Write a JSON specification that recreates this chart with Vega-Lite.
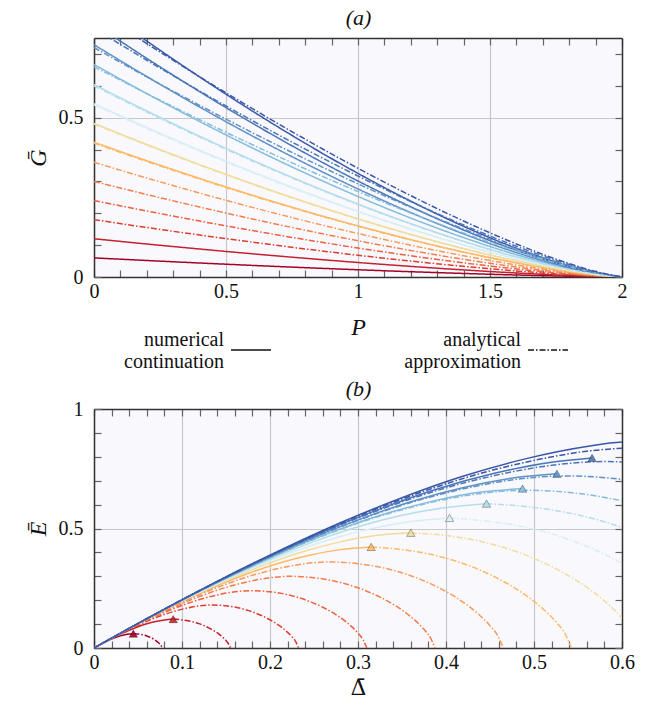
{
"$schema":"https://vega.github.io/schema/vega-lite/v6.json",
"padding":{"left":26,"top":6,"right":5,"bottom":5},
"background":"white",
"spacing":38,
"config":{
 "font":"Liberation Serif",
 "view":{"fill":"#f8f8fd","stroke":null},
 "axis":{"labelFont":"Liberation Serif","labelFontSize":20,"labelColor":"#111","titleFont":"Liberation Serif","titleFontSize":24,"titleFontWeight":"normal","titleColor":"#111","domainColor":"#333","domainWidth":1.5,"tickColor":"#666","tickWidth":1.2,"gridColor":"#c8c8c8","gridWidth":1.2,"labelFlush":false,"labelOverlap":false,"labelBound":false,"format":"~g"}
},
"datasets":{
"a":[
{"k":1,"m":"num","P":0,"G":0.06},{"k":1,"m":"num","P":0.2,"G":0.0518},{"k":1,"m":"num","P":0.4,"G":0.0439},{"k":1,"m":"num","P":0.6,"G":0.0364},{"k":1,"m":"num","P":0.8,"G":0.0293},{"k":1,"m":"num","P":1,"G":0.0227},{"k":1,"m":"num","P":1.2,"G":0.0166},{"k":1,"m":"num","P":1.4,"G":0.0111},{"k":1,"m":"num","P":1.6,"G":0.0063},{"k":1,"m":"num","P":1.8,"G":0.0024},{"k":1,"m":"num","P":1.9,"G":0.0009},{"k":1,"m":"num","P":2,"G":0},
{"k":2,"m":"num","P":0,"G":0.12},{"k":2,"m":"num","P":0.2,"G":0.1035},{"k":2,"m":"num","P":0.4,"G":0.0878},{"k":2,"m":"num","P":0.6,"G":0.0728},{"k":2,"m":"num","P":0.8,"G":0.0587},{"k":2,"m":"num","P":1,"G":0.0455},{"k":2,"m":"num","P":1.2,"G":0.0333},{"k":2,"m":"num","P":1.4,"G":0.0222},{"k":2,"m":"num","P":1.6,"G":0.0126},{"k":2,"m":"num","P":1.8,"G":0.0048},{"k":2,"m":"num","P":1.9,"G":0.0018},{"k":2,"m":"num","P":2,"G":0},
{"k":7,"m":"num","P":0,"G":0.423},{"k":7,"m":"num","P":0.2,"G":0.365},{"k":7,"m":"num","P":0.4,"G":0.3095},{"k":7,"m":"num","P":0.6,"G":0.2567},{"k":7,"m":"num","P":0.8,"G":0.2069},{"k":7,"m":"num","P":1,"G":0.1603},{"k":7,"m":"num","P":1.2,"G":0.1173},{"k":7,"m":"num","P":1.4,"G":0.0784},{"k":7,"m":"num","P":1.6,"G":0.0444},{"k":7,"m":"num","P":1.8,"G":0.0168},{"k":7,"m":"num","P":1.9,"G":0.0064},{"k":7,"m":"num","P":2,"G":0},
{"k":8,"m":"num","P":0,"G":0.482},{"k":8,"m":"num","P":0.2,"G":0.4159},{"k":8,"m":"num","P":0.4,"G":0.3527},{"k":8,"m":"num","P":0.6,"G":0.2925},{"k":8,"m":"num","P":0.8,"G":0.2357},{"k":8,"m":"num","P":1,"G":0.1826},{"k":8,"m":"num","P":1.2,"G":0.1336},{"k":8,"m":"num","P":1.4,"G":0.0893},{"k":8,"m":"num","P":1.6,"G":0.0506},{"k":8,"m":"num","P":1.8,"G":0.0192},{"k":8,"m":"num","P":1.9,"G":0.0073},{"k":8,"m":"num","P":2,"G":0},
{"k":9,"m":"num","P":0,"G":0.544},{"k":9,"m":"num","P":0.2,"G":0.4694},{"k":9,"m":"num","P":0.4,"G":0.398},{"k":9,"m":"num","P":0.6,"G":0.3302},{"k":9,"m":"num","P":0.8,"G":0.2661},{"k":9,"m":"num","P":1,"G":0.2061},{"k":9,"m":"num","P":1.2,"G":0.1508},{"k":9,"m":"num","P":1.4,"G":0.1008},{"k":9,"m":"num","P":1.6,"G":0.0571},{"k":9,"m":"num","P":1.8,"G":0.0217},{"k":9,"m":"num","P":1.9,"G":0.0082},{"k":9,"m":"num","P":2,"G":0},
{"k":10,"m":"num","P":0,"G":0.604},{"k":10,"m":"num","P":0.2,"G":0.5212},{"k":10,"m":"num","P":0.4,"G":0.4419},{"k":10,"m":"num","P":0.6,"G":0.3666},{"k":10,"m":"num","P":0.8,"G":0.2954},{"k":10,"m":"num","P":1,"G":0.2289},{"k":10,"m":"num","P":1.2,"G":0.1674},{"k":10,"m":"num","P":1.4,"G":0.1119},{"k":10,"m":"num","P":1.6,"G":0.0634},{"k":10,"m":"num","P":1.8,"G":0.024},{"k":10,"m":"num","P":1.9,"G":0.0091},{"k":10,"m":"num","P":2,"G":0},
{"k":11,"m":"num","P":0,"G":0.667},{"k":11,"m":"num","P":0.2,"G":0.5755},{"k":11,"m":"num","P":0.4,"G":0.488},{"k":11,"m":"num","P":0.6,"G":0.4048},{"k":11,"m":"num","P":0.8,"G":0.3262},{"k":11,"m":"num","P":1,"G":0.2527},{"k":11,"m":"num","P":1.2,"G":0.1849},{"k":11,"m":"num","P":1.4,"G":0.1236},{"k":11,"m":"num","P":1.6,"G":0.07},{"k":11,"m":"num","P":1.8,"G":0.0265},{"k":11,"m":"num","P":1.9,"G":0.0101},{"k":11,"m":"num","P":2,"G":0},
{"k":12,"m":"num","P":0,"G":0.729},{"k":12,"m":"num","P":0.2,"G":0.6291},{"k":12,"m":"num","P":0.4,"G":0.5334},{"k":12,"m":"num","P":0.6,"G":0.4424},{"k":12,"m":"num","P":0.8,"G":0.3566},{"k":12,"m":"num","P":1,"G":0.2762},{"k":12,"m":"num","P":1.2,"G":0.2021},{"k":12,"m":"num","P":1.4,"G":0.1351},{"k":12,"m":"num","P":1.6,"G":0.0765},{"k":12,"m":"num","P":1.8,"G":0.029},{"k":12,"m":"num","P":1.9,"G":0.011},{"k":12,"m":"num","P":2,"G":0},
{"k":13,"m":"num","P":0,"G":0.795},{"k":13,"m":"num","P":0.2,"G":0.686},{"k":13,"m":"num","P":0.4,"G":0.5817},{"k":13,"m":"num","P":0.6,"G":0.4825},{"k":13,"m":"num","P":0.8,"G":0.3888},{"k":13,"m":"num","P":1,"G":0.3012},{"k":13,"m":"num","P":1.2,"G":0.2204},{"k":13,"m":"num","P":1.4,"G":0.1473},{"k":13,"m":"num","P":1.6,"G":0.0835},{"k":13,"m":"num","P":1.8,"G":0.0316},{"k":13,"m":"num","P":1.9,"G":0.012},{"k":13,"m":"num","P":2,"G":0},
{"k":14,"m":"num","P":0,"G":0.858},{"k":14,"m":"num","P":0.2,"G":0.7404},{"k":14,"m":"num","P":0.4,"G":0.6278},{"k":14,"m":"num","P":0.6,"G":0.5207},{"k":14,"m":"num","P":0.8,"G":0.4196},{"k":14,"m":"num","P":1,"G":0.3251},{"k":14,"m":"num","P":1.2,"G":0.2378},{"k":14,"m":"num","P":1.4,"G":0.159},{"k":14,"m":"num","P":1.6,"G":0.0901},{"k":14,"m":"num","P":1.8,"G":0.0341},{"k":14,"m":"num","P":1.9,"G":0.013},{"k":14,"m":"num","P":2,"G":0},
{"k":3,"m":"ana","P":0,"G":0.18},{"k":3,"m":"ana","P":0.2,"G":0.1553},{"k":3,"m":"ana","P":0.4,"G":0.1317},{"k":3,"m":"ana","P":0.6,"G":0.1092},{"k":3,"m":"ana","P":0.8,"G":0.088},{"k":3,"m":"ana","P":1,"G":0.0682},{"k":3,"m":"ana","P":1.2,"G":0.0499},{"k":3,"m":"ana","P":1.4,"G":0.0334},{"k":3,"m":"ana","P":1.6,"G":0.0189},{"k":3,"m":"ana","P":1.8,"G":0.0072},{"k":3,"m":"ana","P":1.9,"G":0.0027},{"k":3,"m":"ana","P":2,"G":0},
{"k":4,"m":"ana","P":0,"G":0.24},{"k":4,"m":"ana","P":0.2,"G":0.2071},{"k":4,"m":"ana","P":0.4,"G":0.1756},{"k":4,"m":"ana","P":0.6,"G":0.1457},{"k":4,"m":"ana","P":0.8,"G":0.1174},{"k":4,"m":"ana","P":1,"G":0.0909},{"k":4,"m":"ana","P":1.2,"G":0.0665},{"k":4,"m":"ana","P":1.4,"G":0.0445},{"k":4,"m":"ana","P":1.6,"G":0.0252},{"k":4,"m":"ana","P":1.8,"G":0.0096},{"k":4,"m":"ana","P":1.9,"G":0.0036},{"k":4,"m":"ana","P":2,"G":0},
{"k":5,"m":"ana","P":0,"G":0.3},{"k":5,"m":"ana","P":0.2,"G":0.2589},{"k":5,"m":"ana","P":0.4,"G":0.2195},{"k":5,"m":"ana","P":0.6,"G":0.1821},{"k":5,"m":"ana","P":0.8,"G":0.1467},{"k":5,"m":"ana","P":1,"G":0.1137},{"k":5,"m":"ana","P":1.2,"G":0.0832},{"k":5,"m":"ana","P":1.4,"G":0.0556},{"k":5,"m":"ana","P":1.6,"G":0.0315},{"k":5,"m":"ana","P":1.8,"G":0.0119},{"k":5,"m":"ana","P":1.9,"G":0.0045},{"k":5,"m":"ana","P":2,"G":0},
{"k":6,"m":"ana","P":0,"G":0.36},{"k":6,"m":"ana","P":0.2,"G":0.3106},{"k":6,"m":"ana","P":0.4,"G":0.2634},{"k":6,"m":"ana","P":0.6,"G":0.2185},{"k":6,"m":"ana","P":0.8,"G":0.1761},{"k":6,"m":"ana","P":1,"G":0.1364},{"k":6,"m":"ana","P":1.2,"G":0.0998},{"k":6,"m":"ana","P":1.4,"G":0.0667},{"k":6,"m":"ana","P":1.6,"G":0.0378},{"k":6,"m":"ana","P":1.8,"G":0.0143},{"k":6,"m":"ana","P":1.9,"G":0.0054},{"k":6,"m":"ana","P":2,"G":0},
{"k":7,"m":"ana","P":0,"G":0.42},{"k":7,"m":"ana","P":0.2,"G":0.3624},{"k":7,"m":"ana","P":0.4,"G":0.3073},{"k":7,"m":"ana","P":0.6,"G":0.2549},{"k":7,"m":"ana","P":0.8,"G":0.2054},{"k":7,"m":"ana","P":1,"G":0.1591},{"k":7,"m":"ana","P":1.2,"G":0.1164},{"k":7,"m":"ana","P":1.4,"G":0.0778},{"k":7,"m":"ana","P":1.6,"G":0.0441},{"k":7,"m":"ana","P":1.8,"G":0.0167},{"k":7,"m":"ana","P":1.9,"G":0.0063},{"k":7,"m":"ana","P":2,"G":0},
{"k":8,"m":"ana","P":0,"G":0.48},{"k":8,"m":"ana","P":0.2,"G":0.4142},{"k":8,"m":"ana","P":0.4,"G":0.3512},{"k":8,"m":"ana","P":0.6,"G":0.2913},{"k":8,"m":"ana","P":0.8,"G":0.2348},{"k":8,"m":"ana","P":1,"G":0.1819},{"k":8,"m":"ana","P":1.2,"G":0.1331},{"k":8,"m":"ana","P":1.4,"G":0.0889},{"k":8,"m":"ana","P":1.6,"G":0.0504},{"k":8,"m":"ana","P":1.8,"G":0.0191},{"k":8,"m":"ana","P":1.9,"G":0.0072},{"k":8,"m":"ana","P":2,"G":0},
{"k":9,"m":"ana","P":0,"G":0.54},{"k":9,"m":"ana","P":0.2,"G":0.466},{"k":9,"m":"ana","P":0.4,"G":0.3951},{"k":9,"m":"ana","P":0.6,"G":0.3277},{"k":9,"m":"ana","P":0.8,"G":0.2641},{"k":9,"m":"ana","P":1,"G":0.2046},{"k":9,"m":"ana","P":1.2,"G":0.1497},{"k":9,"m":"ana","P":1.4,"G":0.1001},{"k":9,"m":"ana","P":1.6,"G":0.0567},{"k":9,"m":"ana","P":1.8,"G":0.0215},{"k":9,"m":"ana","P":1.9,"G":0.0082},{"k":9,"m":"ana","P":2,"G":0},
{"k":10,"m":"ana","P":0,"G":0.6},{"k":10,"m":"ana","P":0.2,"G":0.5177},{"k":10,"m":"ana","P":0.4,"G":0.439},{"k":10,"m":"ana","P":0.6,"G":0.3641},{"k":10,"m":"ana","P":0.8,"G":0.2935},{"k":10,"m":"ana","P":1,"G":0.2273},{"k":10,"m":"ana","P":1.2,"G":0.1663},{"k":10,"m":"ana","P":1.4,"G":0.1112},{"k":10,"m":"ana","P":1.6,"G":0.063},{"k":10,"m":"ana","P":1.8,"G":0.0239},{"k":10,"m":"ana","P":1.9,"G":0.0091},{"k":10,"m":"ana","P":2,"G":0},
{"k":11,"m":"ana","P":0,"G":0.66},{"k":11,"m":"ana","P":0.2,"G":0.5755},{"k":11,"m":"ana","P":0.4,"G":0.4938},{"k":11,"m":"ana","P":0.6,"G":0.4151},{"k":11,"m":"ana","P":0.8,"G":0.3398},{"k":11,"m":"ana","P":1,"G":0.268},{"k":11,"m":"ana","P":1.2,"G":0.2006},{"k":11,"m":"ana","P":1.4,"G":0.1379},{"k":11,"m":"ana","P":1.6,"G":0.0814},{"k":11,"m":"ana","P":1.8,"G":0.0331},{"k":11,"m":"ana","P":1.9,"G":0.0135},{"k":11,"m":"ana","P":2,"G":0},
{"k":12,"m":"ana","P":0,"G":0.72},{"k":12,"m":"ana","P":0.2,"G":0.6278},{"k":12,"m":"ana","P":0.4,"G":0.5387},{"k":12,"m":"ana","P":0.6,"G":0.4529},{"k":12,"m":"ana","P":0.8,"G":0.3707},{"k":12,"m":"ana","P":1,"G":0.2924},{"k":12,"m":"ana","P":1.2,"G":0.2188},{"k":12,"m":"ana","P":1.4,"G":0.1505},{"k":12,"m":"ana","P":1.6,"G":0.0888},{"k":12,"m":"ana","P":1.8,"G":0.0361},{"k":12,"m":"ana","P":1.9,"G":0.0147},{"k":12,"m":"ana","P":2,"G":0},
{"k":13,"m":"ana","P":0,"G":0.78},{"k":13,"m":"ana","P":0.2,"G":0.6802},{"k":13,"m":"ana","P":0.4,"G":0.5836},{"k":13,"m":"ana","P":0.6,"G":0.4906},{"k":13,"m":"ana","P":0.8,"G":0.4015},{"k":13,"m":"ana","P":1,"G":0.3168},{"k":13,"m":"ana","P":1.2,"G":0.237},{"k":13,"m":"ana","P":1.4,"G":0.163},{"k":13,"m":"ana","P":1.6,"G":0.0963},{"k":13,"m":"ana","P":1.8,"G":0.0391},{"k":13,"m":"ana","P":1.9,"G":0.0159},{"k":13,"m":"ana","P":2,"G":0},
{"k":14,"m":"ana","P":0,"G":0.84},{"k":14,"m":"ana","P":0.2,"G":0.7325},{"k":14,"m":"ana","P":0.4,"G":0.6285},{"k":14,"m":"ana","P":0.6,"G":0.5284},{"k":14,"m":"ana","P":0.8,"G":0.4324},{"k":14,"m":"ana","P":1,"G":0.3411},{"k":14,"m":"ana","P":1.2,"G":0.2553},{"k":14,"m":"ana","P":1.4,"G":0.1756},{"k":14,"m":"ana","P":1.6,"G":0.1037},{"k":14,"m":"ana","P":1.8,"G":0.0421},{"k":14,"m":"ana","P":1.9,"G":0.0171},{"k":14,"m":"ana","P":2,"G":0}
],
"b":[
{"k":1,"m":"num","D":0,"E":0},{"k":1,"m":"num","D":0.005,"E":0.0102},{"k":1,"m":"num","D":0.01,"E":0.0199},{"k":1,"m":"num","D":0.015,"E":0.0289},{"k":1,"m":"num","D":0.02,"E":0.0372},{"k":1,"m":"num","D":0.025,"E":0.0445},{"k":1,"m":"num","D":0.03,"E":0.0507},{"k":1,"m":"num","D":0.035,"E":0.0555},{"k":1,"m":"num","D":0.04,"E":0.0588},{"k":1,"m":"num","D":0.0447,"E":0.06},
{"k":2,"m":"num","D":0,"E":0},{"k":2,"m":"num","D":0.01,"E":0.0204},{"k":2,"m":"num","D":0.02,"E":0.0398},{"k":2,"m":"num","D":0.03,"E":0.0578},{"k":2,"m":"num","D":0.04,"E":0.0744},{"k":2,"m":"num","D":0.05,"E":0.089},{"k":2,"m":"num","D":0.06,"E":0.1014},{"k":2,"m":"num","D":0.07,"E":0.111},{"k":2,"m":"num","D":0.08,"E":0.1176},{"k":2,"m":"num","D":0.09,"E":0.121},
{"k":7,"m":"num","D":0,"E":0},{"k":7,"m":"num","D":0.035,"E":0.0714},{"k":7,"m":"num","D":0.07,"E":0.1393},{"k":7,"m":"num","D":0.105,"E":0.2023},{"k":7,"m":"num","D":0.14,"E":0.2604},{"k":7,"m":"num","D":0.175,"E":0.3115},{"k":7,"m":"num","D":0.21,"E":0.3549},{"k":7,"m":"num","D":0.245,"E":0.3885},{"k":7,"m":"num","D":0.28,"E":0.4116},{"k":7,"m":"num","D":0.315,"E":0.423},
{"k":8,"m":"num","D":0,"E":0},{"k":8,"m":"num","D":0.04,"E":0.0816},{"k":8,"m":"num","D":0.08,"E":0.1592},{"k":8,"m":"num","D":0.12,"E":0.2312},{"k":8,"m":"num","D":0.16,"E":0.2976},{"k":8,"m":"num","D":0.2,"E":0.356},{"k":8,"m":"num","D":0.24,"E":0.4056},{"k":8,"m":"num","D":0.28,"E":0.444},{"k":8,"m":"num","D":0.32,"E":0.4704},{"k":8,"m":"num","D":0.36,"E":0.482},
{"k":9,"m":"num","D":0,"E":0},{"k":9,"m":"num","D":0.045,"E":0.0918},{"k":9,"m":"num","D":0.09,"E":0.1791},{"k":9,"m":"num","D":0.135,"E":0.2601},{"k":9,"m":"num","D":0.18,"E":0.3348},{"k":9,"m":"num","D":0.225,"E":0.4005},{"k":9,"m":"num","D":0.27,"E":0.4563},{"k":9,"m":"num","D":0.315,"E":0.4995},{"k":9,"m":"num","D":0.36,"E":0.5292},{"k":9,"m":"num","D":0.404,"E":0.544},
{"k":10,"m":"num","D":0,"E":0},{"k":10,"m":"num","D":0.05,"E":0.102},{"k":10,"m":"num","D":0.1,"E":0.199},{"k":10,"m":"num","D":0.15,"E":0.289},{"k":10,"m":"num","D":0.2,"E":0.372},{"k":10,"m":"num","D":0.25,"E":0.445},{"k":10,"m":"num","D":0.3,"E":0.507},{"k":10,"m":"num","D":0.35,"E":0.555},{"k":10,"m":"num","D":0.4,"E":0.588},{"k":10,"m":"num","D":0.446,"E":0.604},
{"k":11,"m":"num","D":0,"E":0},{"k":11,"m":"num","D":0.055,"E":0.1122},{"k":11,"m":"num","D":0.11,"E":0.219},{"k":11,"m":"num","D":0.165,"E":0.3183},{"k":11,"m":"num","D":0.22,"E":0.4101},{"k":11,"m":"num","D":0.275,"E":0.4912},{"k":11,"m":"num","D":0.33,"E":0.5604},{"k":11,"m":"num","D":0.385,"E":0.6145},{"k":11,"m":"num","D":0.44,"E":0.6524},{"k":11,"m":"num","D":0.487,"E":0.667},
{"k":12,"m":"num","D":0,"E":0},{"k":12,"m":"num","D":0.06,"E":0.1224},{"k":12,"m":"num","D":0.12,"E":0.239},{"k":12,"m":"num","D":0.18,"E":0.3473},{"k":12,"m":"num","D":0.24,"E":0.4476},{"k":12,"m":"num","D":0.3,"E":0.5362},{"k":12,"m":"num","D":0.36,"E":0.6121},{"k":12,"m":"num","D":0.42,"E":0.6715},{"k":12,"m":"num","D":0.48,"E":0.7132},{"k":12,"m":"num","D":0.526,"E":0.729},
{"k":13,"m":"num","D":0,"E":0},{"k":13,"m":"num","D":0.065,"E":0.1326},{"k":13,"m":"num","D":0.13,"E":0.259},{"k":13,"m":"num","D":0.195,"E":0.3766},{"k":13,"m":"num","D":0.26,"E":0.4856},{"k":13,"m":"num","D":0.325,"E":0.5823},{"k":13,"m":"num","D":0.39,"E":0.6654},{"k":13,"m":"num","D":0.455,"E":0.7308},{"k":13,"m":"num","D":0.52,"E":0.7773},{"k":13,"m":"num","D":0.566,"E":0.795},
{"k":14,"m":"num","D":0,"E":0},{"k":14,"m":"num","D":0.07,"E":0.1429},{"k":14,"m":"num","D":0.14,"E":0.279},{"k":14,"m":"num","D":0.21,"E":0.406},{"k":14,"m":"num","D":0.28,"E":0.5239},{"k":14,"m":"num","D":0.35,"E":0.6289},{"k":14,"m":"num","D":0.42,"E":0.7194},{"k":14,"m":"num","D":0.49,"E":0.7913},{"k":14,"m":"num","D":0.56,"E":0.843},{"k":14,"m":"num","D":0.605,"E":0.862},{"k":14,"m":"num","D":0.63,"E":0.858},
{"k":1,"m":"ana","D":0.0447,"E":0.06},{"k":1,"m":"ana","D":0.05,"E":0.0588},{"k":1,"m":"ana","D":0.055,"E":0.0557},{"k":1,"m":"ana","D":0.06,"E":0.0504},{"k":1,"m":"ana","D":0.065,"E":0.0426},{"k":1,"m":"ana","D":0.0685,"E":0.0354},{"k":1,"m":"ana","D":0.071,"E":0.0291},{"k":1,"m":"ana","D":0.073,"E":0.023},{"k":1,"m":"ana","D":0.075,"E":0.0156},{"k":1,"m":"ana","D":0.0765,"E":0.0083},{"k":1,"m":"ana","D":0.0775,"E":0},
{"k":2,"m":"ana","D":0.09,"E":0.121},{"k":2,"m":"ana","D":0.1,"E":0.1176},{"k":2,"m":"ana","D":0.11,"E":0.1114},{"k":2,"m":"ana","D":0.12,"E":0.1008},{"k":2,"m":"ana","D":0.13,"E":0.0852},{"k":2,"m":"ana","D":0.137,"E":0.0708},{"k":2,"m":"ana","D":0.142,"E":0.0582},{"k":2,"m":"ana","D":0.146,"E":0.046},{"k":2,"m":"ana","D":0.15,"E":0.0312},{"k":2,"m":"ana","D":0.153,"E":0.0166},{"k":2,"m":"ana","D":0.155,"E":0},
{"k":3,"m":"ana","D":0,"E":0},{"k":3,"m":"ana","D":0.015,"E":0.0306},{"k":3,"m":"ana","D":0.03,"E":0.0597},{"k":3,"m":"ana","D":0.045,"E":0.0867},{"k":3,"m":"ana","D":0.06,"E":0.1116},{"k":3,"m":"ana","D":0.075,"E":0.1335},{"k":3,"m":"ana","D":0.09,"E":0.1521},{"k":3,"m":"ana","D":0.105,"E":0.1665},{"k":3,"m":"ana","D":0.12,"E":0.1764},{"k":3,"m":"ana","D":0.1335,"E":0.18},{"k":3,"m":"ana","D":0.15,"E":0.1764},{"k":3,"m":"ana","D":0.165,"E":0.1671},{"k":3,"m":"ana","D":0.18,"E":0.1512},{"k":3,"m":"ana","D":0.195,"E":0.1278},{"k":3,"m":"ana","D":0.2055,"E":0.1062},{"k":3,"m":"ana","D":0.213,"E":0.0873},{"k":3,"m":"ana","D":0.219,"E":0.069},{"k":3,"m":"ana","D":0.225,"E":0.0468},{"k":3,"m":"ana","D":0.2295,"E":0.0249},{"k":3,"m":"ana","D":0.2325,"E":0},
{"k":4,"m":"ana","D":0,"E":0},{"k":4,"m":"ana","D":0.02,"E":0.0408},{"k":4,"m":"ana","D":0.04,"E":0.0796},{"k":4,"m":"ana","D":0.06,"E":0.1156},{"k":4,"m":"ana","D":0.08,"E":0.1488},{"k":4,"m":"ana","D":0.1,"E":0.178},{"k":4,"m":"ana","D":0.12,"E":0.2028},{"k":4,"m":"ana","D":0.14,"E":0.222},{"k":4,"m":"ana","D":0.16,"E":0.2352},{"k":4,"m":"ana","D":0.178,"E":0.24},{"k":4,"m":"ana","D":0.2,"E":0.2352},{"k":4,"m":"ana","D":0.22,"E":0.2228},{"k":4,"m":"ana","D":0.24,"E":0.2016},{"k":4,"m":"ana","D":0.26,"E":0.1704},{"k":4,"m":"ana","D":0.274,"E":0.1416},{"k":4,"m":"ana","D":0.284,"E":0.1164},{"k":4,"m":"ana","D":0.292,"E":0.092},{"k":4,"m":"ana","D":0.3,"E":0.0624},{"k":4,"m":"ana","D":0.306,"E":0.0332},{"k":4,"m":"ana","D":0.31,"E":0},
{"k":5,"m":"ana","D":0,"E":0},{"k":5,"m":"ana","D":0.025,"E":0.051},{"k":5,"m":"ana","D":0.05,"E":0.0995},{"k":5,"m":"ana","D":0.075,"E":0.1445},{"k":5,"m":"ana","D":0.1,"E":0.186},{"k":5,"m":"ana","D":0.125,"E":0.2225},{"k":5,"m":"ana","D":0.15,"E":0.2535},{"k":5,"m":"ana","D":0.175,"E":0.2775},{"k":5,"m":"ana","D":0.2,"E":0.294},{"k":5,"m":"ana","D":0.2225,"E":0.3},{"k":5,"m":"ana","D":0.25,"E":0.294},{"k":5,"m":"ana","D":0.275,"E":0.2785},{"k":5,"m":"ana","D":0.3,"E":0.252},{"k":5,"m":"ana","D":0.325,"E":0.213},{"k":5,"m":"ana","D":0.3425,"E":0.177},{"k":5,"m":"ana","D":0.355,"E":0.1455},{"k":5,"m":"ana","D":0.365,"E":0.115},{"k":5,"m":"ana","D":0.375,"E":0.078},{"k":5,"m":"ana","D":0.3825,"E":0.0415},{"k":5,"m":"ana","D":0.3875,"E":0},
{"k":6,"m":"ana","D":0,"E":0},{"k":6,"m":"ana","D":0.03,"E":0.0612},{"k":6,"m":"ana","D":0.06,"E":0.1194},{"k":6,"m":"ana","D":0.09,"E":0.1734},{"k":6,"m":"ana","D":0.12,"E":0.2232},{"k":6,"m":"ana","D":0.15,"E":0.267},{"k":6,"m":"ana","D":0.18,"E":0.3042},{"k":6,"m":"ana","D":0.21,"E":0.333},{"k":6,"m":"ana","D":0.24,"E":0.3528},{"k":6,"m":"ana","D":0.267,"E":0.36},{"k":6,"m":"ana","D":0.3,"E":0.3528},{"k":6,"m":"ana","D":0.33,"E":0.3342},{"k":6,"m":"ana","D":0.36,"E":0.3024},{"k":6,"m":"ana","D":0.39,"E":0.2556},{"k":6,"m":"ana","D":0.411,"E":0.2124},{"k":6,"m":"ana","D":0.426,"E":0.1746},{"k":6,"m":"ana","D":0.438,"E":0.138},{"k":6,"m":"ana","D":0.45,"E":0.0936},{"k":6,"m":"ana","D":0.459,"E":0.0498},{"k":6,"m":"ana","D":0.465,"E":0},
{"k":7,"m":"ana","D":0.315,"E":0.423},{"k":7,"m":"ana","D":0.35,"E":0.4116},{"k":7,"m":"ana","D":0.385,"E":0.3899},{"k":7,"m":"ana","D":0.42,"E":0.3528},{"k":7,"m":"ana","D":0.455,"E":0.2982},{"k":7,"m":"ana","D":0.4795,"E":0.2478},{"k":7,"m":"ana","D":0.497,"E":0.2037},{"k":7,"m":"ana","D":0.511,"E":0.161},{"k":7,"m":"ana","D":0.525,"E":0.1092},{"k":7,"m":"ana","D":0.5355,"E":0.0581},{"k":7,"m":"ana","D":0.5425,"E":0},
{"k":8,"m":"ana","D":0.36,"E":0.482},{"k":8,"m":"ana","D":0.4,"E":0.4704},{"k":8,"m":"ana","D":0.44,"E":0.4456},{"k":8,"m":"ana","D":0.48,"E":0.4032},{"k":8,"m":"ana","D":0.52,"E":0.3408},{"k":8,"m":"ana","D":0.548,"E":0.2832},{"k":8,"m":"ana","D":0.568,"E":0.2328},{"k":8,"m":"ana","D":0.584,"E":0.184},{"k":8,"m":"ana","D":0.6,"E":0.1248},{"k":8,"m":"ana","D":0.612,"E":0.0664},{"k":8,"m":"ana","D":0.62,"E":0},
{"k":9,"m":"ana","D":0.404,"E":0.544},{"k":9,"m":"ana","D":0.45,"E":0.5292},{"k":9,"m":"ana","D":0.495,"E":0.5013},{"k":9,"m":"ana","D":0.54,"E":0.4536},{"k":9,"m":"ana","D":0.585,"E":0.3834},{"k":9,"m":"ana","D":0.6165,"E":0.3186},
{"k":10,"m":"ana","D":0.446,"E":0.604},{"k":10,"m":"ana","D":0.5,"E":0.588},{"k":10,"m":"ana","D":0.55,"E":0.557},{"k":10,"m":"ana","D":0.6,"E":0.504},{"k":10,"m":"ana","D":0.65,"E":0.426},
{"k":11,"m":"ana","D":0,"E":0},{"k":11,"m":"ana","D":0.055,"E":0.1122},{"k":11,"m":"ana","D":0.11,"E":0.2189},{"k":11,"m":"ana","D":0.165,"E":0.3179},{"k":11,"m":"ana","D":0.22,"E":0.4092},{"k":11,"m":"ana","D":0.275,"E":0.4895},{"k":11,"m":"ana","D":0.33,"E":0.5577},{"k":11,"m":"ana","D":0.385,"E":0.6105},{"k":11,"m":"ana","D":0.44,"E":0.6468},{"k":11,"m":"ana","D":0.4895,"E":0.66},{"k":11,"m":"ana","D":0.55,"E":0.6468},{"k":11,"m":"ana","D":0.605,"E":0.6127},
{"k":12,"m":"ana","D":0,"E":0},{"k":12,"m":"ana","D":0.06,"E":0.1224},{"k":12,"m":"ana","D":0.12,"E":0.2388},{"k":12,"m":"ana","D":0.18,"E":0.3468},{"k":12,"m":"ana","D":0.24,"E":0.4464},{"k":12,"m":"ana","D":0.3,"E":0.534},{"k":12,"m":"ana","D":0.36,"E":0.6084},{"k":12,"m":"ana","D":0.42,"E":0.666},{"k":12,"m":"ana","D":0.48,"E":0.7056},{"k":12,"m":"ana","D":0.534,"E":0.72},{"k":12,"m":"ana","D":0.6,"E":0.7056},{"k":12,"m":"ana","D":0.66,"E":0.6684},
{"k":13,"m":"ana","D":0,"E":0},{"k":13,"m":"ana","D":0.065,"E":0.1326},{"k":13,"m":"ana","D":0.13,"E":0.2587},{"k":13,"m":"ana","D":0.195,"E":0.3757},{"k":13,"m":"ana","D":0.26,"E":0.4836},{"k":13,"m":"ana","D":0.325,"E":0.5785},{"k":13,"m":"ana","D":0.39,"E":0.6591},{"k":13,"m":"ana","D":0.455,"E":0.7215},{"k":13,"m":"ana","D":0.52,"E":0.7644},{"k":13,"m":"ana","D":0.5785,"E":0.78},{"k":13,"m":"ana","D":0.65,"E":0.7644},
{"k":14,"m":"ana","D":0,"E":0},{"k":14,"m":"ana","D":0.07,"E":0.1428},{"k":14,"m":"ana","D":0.14,"E":0.2786},{"k":14,"m":"ana","D":0.21,"E":0.4046},{"k":14,"m":"ana","D":0.28,"E":0.5208},{"k":14,"m":"ana","D":0.35,"E":0.623},{"k":14,"m":"ana","D":0.42,"E":0.7098},{"k":14,"m":"ana","D":0.49,"E":0.777},{"k":14,"m":"ana","D":0.56,"E":0.8232},{"k":14,"m":"ana","D":0.623,"E":0.84}
],
"t":[
{"k":1,"D":0.0447,"E":0.06},{"k":2,"D":0.09,"E":0.121},{"k":7,"D":0.315,"E":0.423},{"k":8,"D":0.36,"E":0.482},{"k":9,"D":0.404,"E":0.544},{"k":10,"D":0.446,"E":0.604},{"k":11,"D":0.487,"E":0.667},{"k":12,"D":0.526,"E":0.729},{"k":13,"D":0.566,"E":0.795}
]
},
"vconcat":[
{
 "width":528,"height":239,
 "data":{"name":"a"},
 "layer":[
  {
   "transform":[{"filter":"datum.m == 'num'"}],
   "mark":{"type":"line","clip":true,"strokeWidth":1.5,"interpolate":"monotone"},
   "encoding":{
    "x":{"field":"P","type":"quantitative","scale":{"domain":[0,2],"nice":false},
      "axis":{"orient":"bottom","values":[0,0.1,0.2,0.3,0.4,0.5,0.6,0.7,0.8,0.9,1,1.1,1.2,1.3,1.4,1.5,1.6,1.7,1.8,1.9,2],"labelExpr":"abs(datum.value*2-round(datum.value*2))<0.001 ? datum.label : ''","gridOpacity":{"condition":{"test":"abs(datum.value*2-round(datum.value*2))<0.001","value":1},"value":0},"grid":true,"tickSize":-7,"labelPadding":11,"title":"P","titleFontStyle":"italic","titlePadding":14}},
    "y":{"field":"G","type":"quantitative","scale":{"domain":[0,0.75],"nice":false},
      "axis":{"orient":"left","values":[0,0.1,0.2,0.3,0.4,0.5,0.6,0.7],"labelExpr":"abs(datum.value*2-round(datum.value*2))<0.001 ? datum.label : ''","gridOpacity":{"condition":{"test":"abs(datum.value*2-round(datum.value*2))<0.001","value":1},"value":0},"grid":true,"tickSize":-7,"labelPadding":18,"title":"Ḡ","titleFontStyle":"italic","titleX":-44,"titleY":119.5,"titleAngle":-90,"titleBaseline":"bottom","titleAlign":"center"}},
    "color":{"field":"k","type":"ordinal","scale":{"domain":[1,2,3,4,5,6,7,8,9,10,11,12,13,14],"range":["#a50026","#c4202d","#dc3d2d","#ec5f3f","#f47c4b","#f99a57","#fdb966","#f0dc9c","#d8eef5","#b4ddeb","#84bcdb","#5f90c6","#4a75b5","#3a56a6"]},"legend":null},
    "strokeDash":{"field":"m","type":"nominal","scale":{"domain":["num","ana"],"range":[[1,0],[6,2,1.5,2]]},
      "legend":{"orient":"none","legendX":136,"legendY":291,"direction":"horizontal","title":null,"symbolType":"stroke","symbolSize":1600,"symbolStrokeWidth":1.3,"symbolStrokeColor":"#111","labelFont":"Liberation Serif","labelFontSize":20,"labelColor":"#111","labelAlign":"right","labelBaseline":"bottom","labelOffset":-48,"labelLimit":0,"columnPadding":130,"labelExpr":"datum.value == 'num' ? ['numerical','continuation'] : ['analytical','approximation']"}}
   }
  },
  {
   "transform":[{"filter":"datum.m == 'ana'"}],
   "mark":{"type":"line","clip":true,"strokeWidth":1.5,"interpolate":"monotone"},
   "encoding":{
    "x":{"field":"P","type":"quantitative","axis":{"orient":"top","values":[0,0.1,0.2,0.3,0.4,0.5,0.6,0.7,0.8,0.9,1,1.1,1.2,1.3,1.4,1.5,1.6,1.7,1.8,1.9,2],"labels":false,"grid":false,"tickSize":-7,"title":"(a)","titleFontStyle":"italic","titleFontSize":22,"titleX":264,"titleY":-9,"titleBaseline":"bottom","titleAlign":"center","minExtent":0,"maxExtent":0}},
    "y":{"field":"G","type":"quantitative","axis":{"orient":"right","values":[0,0.1,0.2,0.3,0.4,0.5,0.6,0.7],"labels":false,"grid":false,"tickSize":-7,"title":null,"minExtent":0,"maxExtent":0}},
    "color":{"field":"k","type":"ordinal","legend":null},
    "strokeDash":{"field":"m","type":"nominal"}
   }
  }
 ]
},
{
 "width":528,"height":239,
 "layer":[
  {
   "data":{"name":"b"},
   "transform":[{"filter":"datum.m == 'num'"}],
   "mark":{"type":"line","clip":true,"strokeWidth":1.5,"interpolate":"monotone"},
   "encoding":{
    "x":{"field":"D","type":"quantitative","scale":{"domain":[0,0.6],"nice":false},
      "axis":{"orient":"bottom","values":[0,0.02,0.04,0.06,0.08,0.1,0.12,0.14,0.16,0.18,0.2,0.22,0.24,0.26,0.28,0.3,0.32,0.34,0.36,0.38,0.4,0.42,0.44,0.46,0.48,0.5,0.52,0.54,0.56,0.58,0.6],"labelExpr":"abs(datum.value*10-round(datum.value*10))<0.001 ? datum.label : ''","gridOpacity":{"condition":{"test":"abs(datum.value*10-round(datum.value*10))<0.001","value":1},"value":0},"grid":true,"tickSize":-7,"labelPadding":11,"title":"Δ̄","titleFont":"DejaVu Serif","titleFontSize":22,"titlePadding":5}},
    "y":{"field":"E","type":"quantitative","scale":{"domain":[0,1],"nice":false},
      "axis":{"orient":"left","values":[0,0.1,0.2,0.3,0.4,0.5,0.6,0.7,0.8,0.9,1],"labelExpr":"abs(datum.value*2-round(datum.value*2))<0.001 ? datum.label : ''","gridOpacity":{"condition":{"test":"abs(datum.value*2-round(datum.value*2))<0.001","value":1},"value":0},"grid":true,"tickSize":-7,"labelPadding":18,"title":"Ē","titleFontStyle":"italic","titleX":-44,"titleY":119.5,"titleAngle":-90,"titleBaseline":"bottom","titleAlign":"center"}},
    "color":{"field":"k","type":"ordinal","legend":null}
   }
  },
  {
   "data":{"name":"b"},
   "transform":[{"filter":"datum.m == 'ana'"}],
   "mark":{"type":"line","clip":true,"strokeWidth":1.5,"interpolate":"monotone","strokeDash":[6,2,1.5,2]},
   "encoding":{
    "x":{"field":"D","type":"quantitative","axis":{"orient":"top","values":[0,0.02,0.04,0.06,0.08,0.1,0.12,0.14,0.16,0.18,0.2,0.22,0.24,0.26,0.28,0.3,0.32,0.34,0.36,0.38,0.4,0.42,0.44,0.46,0.48,0.5,0.52,0.54,0.56,0.58,0.6],"labels":false,"grid":false,"tickSize":-7,"title":"(b)","titleFontStyle":"italic","titleFontSize":22,"titleX":264,"titleY":-9,"titleBaseline":"bottom","titleAlign":"center","minExtent":0,"maxExtent":0}},
    "y":{"field":"E","type":"quantitative","axis":{"orient":"right","values":[0,0.1,0.2,0.3,0.4,0.5,0.6,0.7,0.8,0.9,1],"labels":false,"grid":false,"tickSize":-7,"title":null,"minExtent":0,"maxExtent":0}},
    "color":{"field":"k","type":"ordinal","legend":null}
   }
  },
  {
   "data":{"name":"t"},
   "mark":{"type":"point","shape":"triangle-up","filled":true,"size":70,"clip":true,"stroke":"#000","strokeOpacity":0.3,"strokeWidth":1,"fillOpacity":0.9},
   "encoding":{
    "x":{"field":"D","type":"quantitative","axis":null},
    "y":{"field":"E","type":"quantitative","axis":null},
    "color":{"field":"k","type":"ordinal","legend":null}
   }
  }
 ]
}
]
}
